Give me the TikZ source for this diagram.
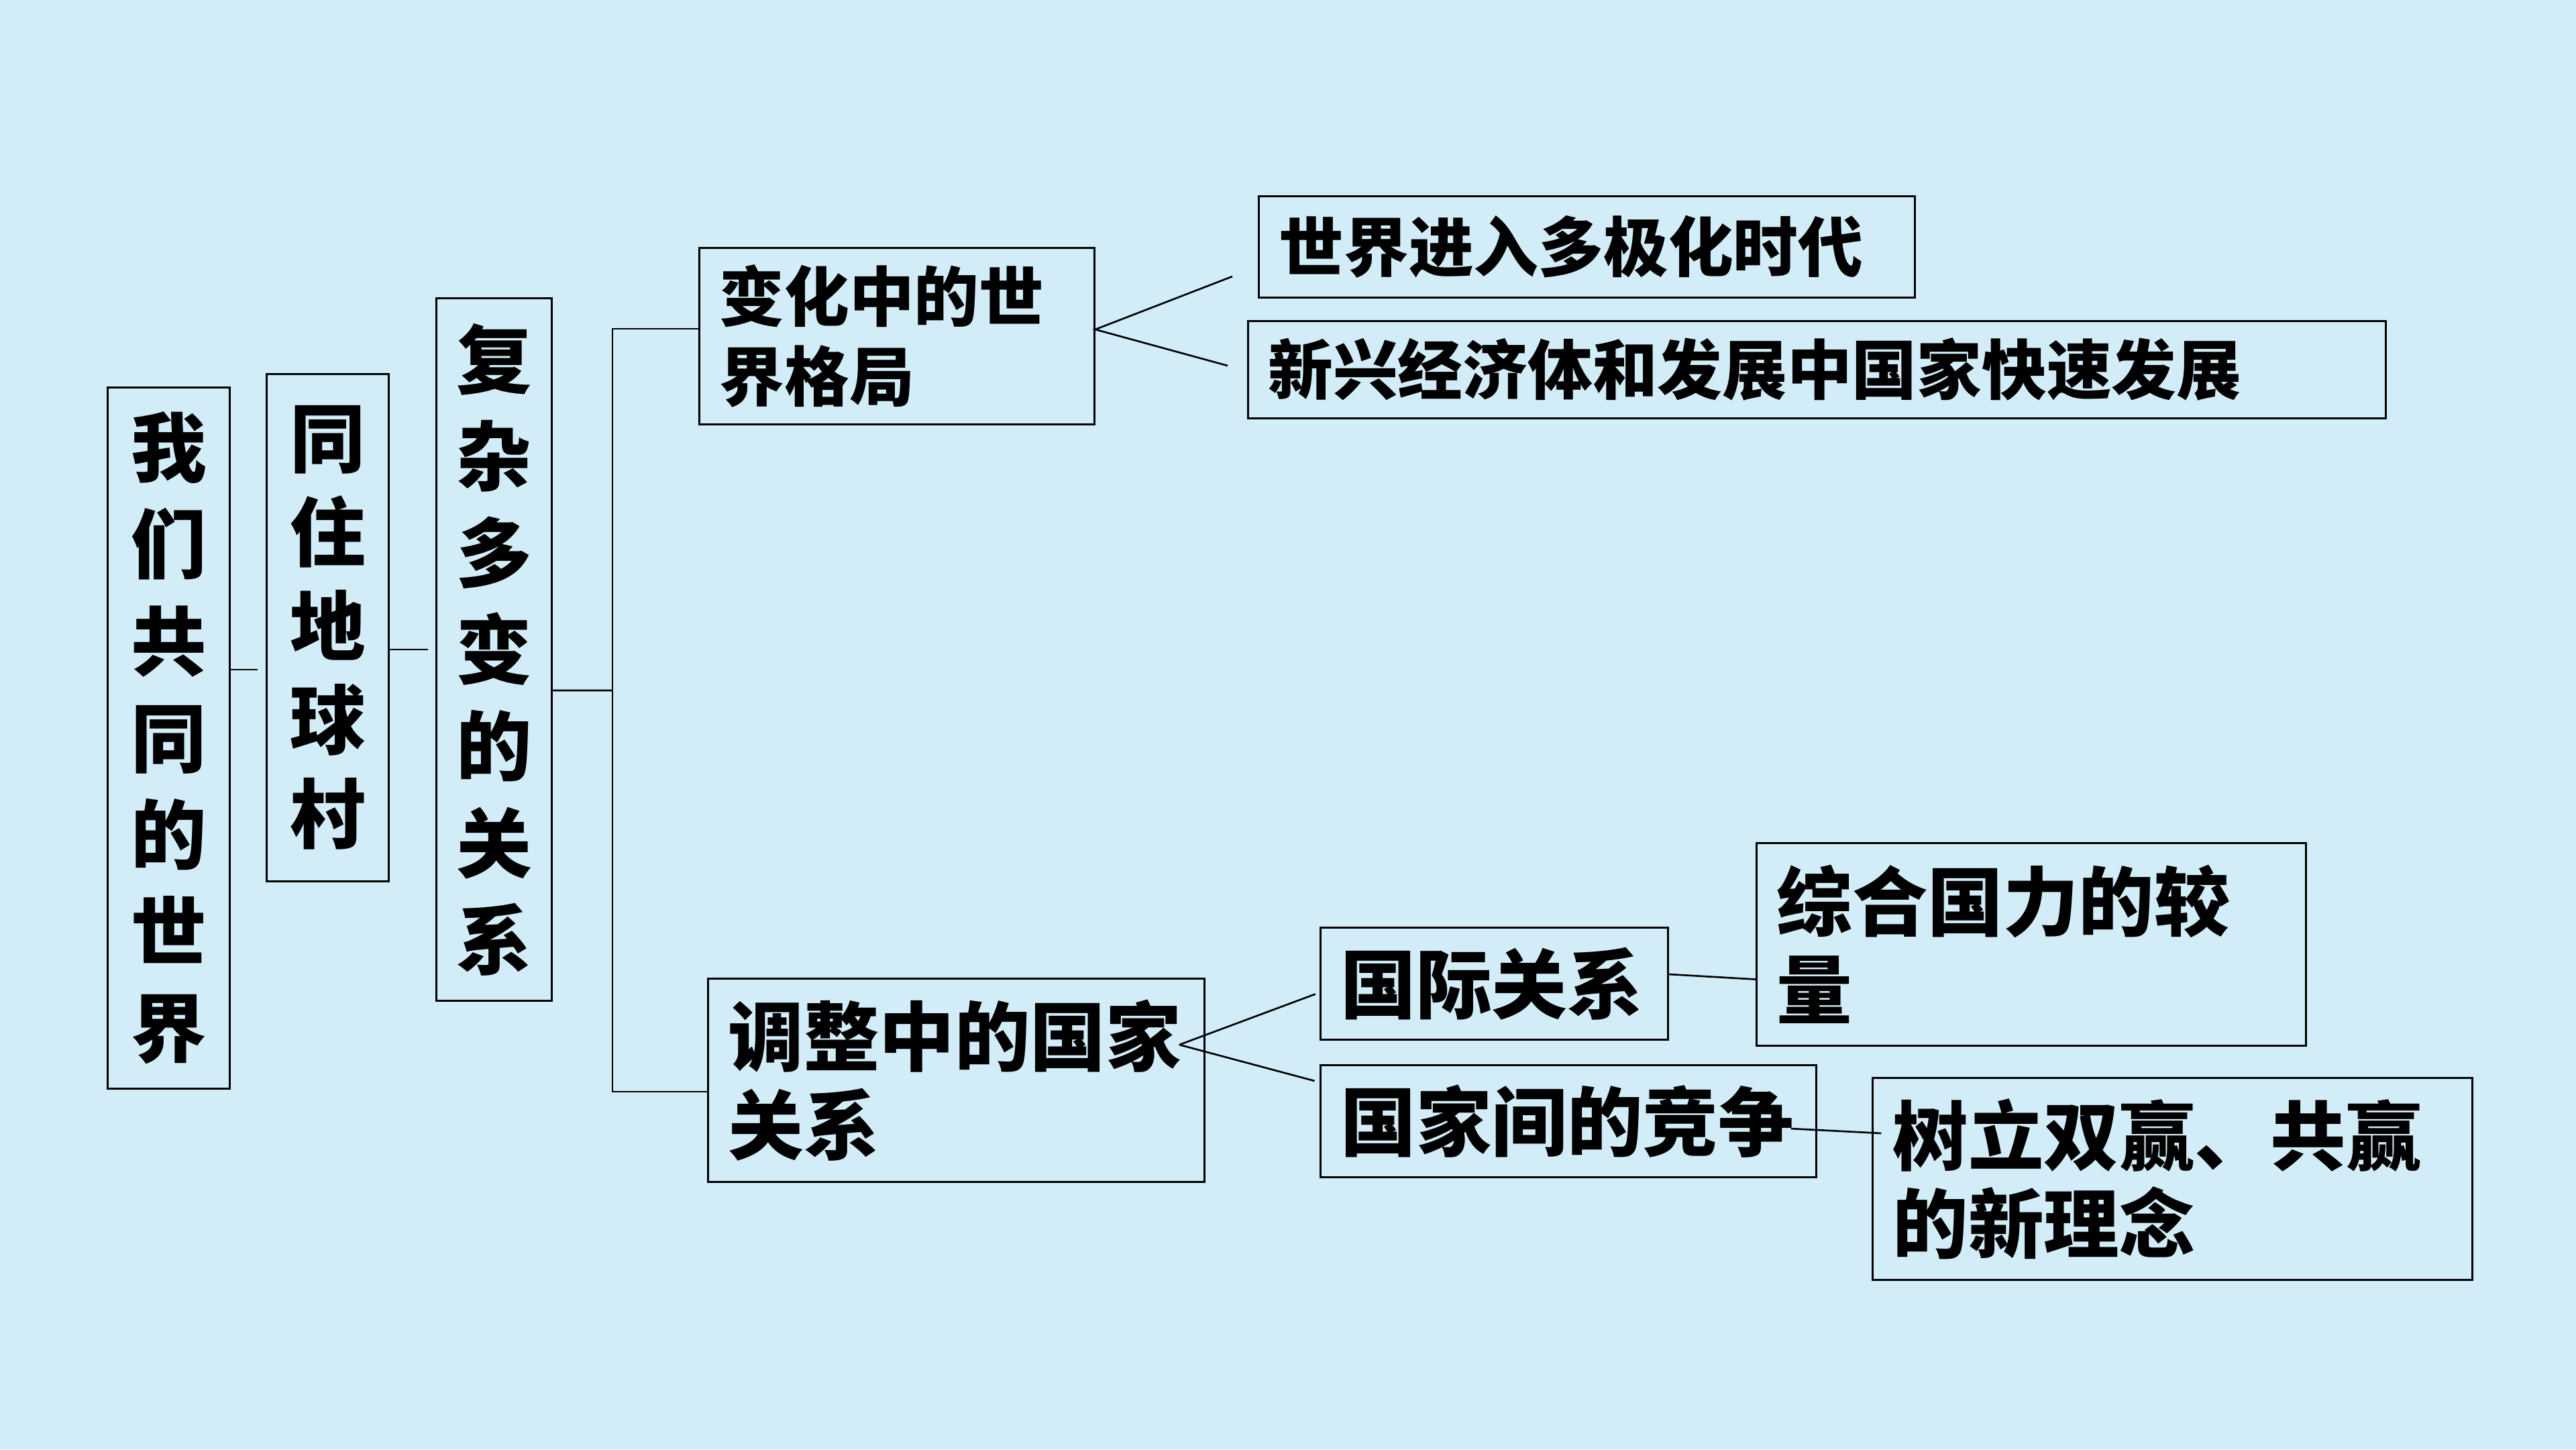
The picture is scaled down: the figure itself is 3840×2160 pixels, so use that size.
\documentclass[tikz,border=0pt]{standalone}
\usepackage{fontspec}
\usepackage{tikz}
\usetikzlibrary{calc,positioning}
\newfontfamily\cjk{Noto Sans CJK SC}
\definecolor{gbg}{HTML}{D2EDF7}
\definecolor{gink}{HTML}{000000}
\tikzset{
  vbox/.style={draw=gink,line width=0.85pt,align=center,inner sep=0pt,font=\cjk\bfseries\fontsize{32}{41}\selectfont},
  tbox/.style={draw=gink,line width=0.85pt,align=left,inner xsep=0.3cm,inner ysep=0pt,font=\cjk\bfseries\fontsize{27.5}{33.6}\selectfont},
  lbox/.style={draw=gink,line width=0.85pt,align=left,inner xsep=0.3cm,inner ysep=0pt,font=\cjk\bfseries\fontsize{32}{37.3}\selectfont},
  link/.style={draw=gink,line width=0.75pt},
}

\begin{document}
\begin{tikzpicture}[x=0.01cm,y=-0.01cm]
  \useasboundingbox (0,0) rectangle (3840,2160);
  \fill[gbg] (0,0) rectangle (3840,2160);

  % vertical titles
  \node[vbox,minimum width=1.81cm,minimum height=10.44cm] (world) at (251.5,1100) {我\\们\\共\\同\\的\\世\\界};
  \node[vbox,minimum width=1.81cm,minimum height=7.55cm,font=\cjk\bfseries\fontsize{32}{39.8}\selectfont] (village) at (488.5,935.5) {同\\住\\地\\球\\村};
  \node[vbox,minimum width=1.71cm,minimum height=10.46cm] (complex) at (736.5,968) {复\\杂\\多\\变\\的\\关\\系};

  % upper branch
  \node[tbox,text width=5.28cm,minimum height=2.62cm] (pattern) at (1337,501) {变化中的世\\界格局};
  \node[tbox,text width=9.17cm,minimum height=1.5cm] (multipolar) at (2365.5,368) {世界进入多极化时代};
  \node[tbox,text width=16.35cm,minimum height=1.44cm] (emerging) at (2708.5,551) {新兴经济体和发展中国家快速发展};

  % lower branch
  \node[lbox,text width=6.79cm,minimum height=3.02cm] (adjust) at (1425.5,1610) {调整中的国家\\关系};
  \node[lbox,text width=4.57cm,minimum height=1.66cm] (intl) at (2227.5,1466) {国际关系};
  \node[lbox,text width=6.78cm,minimum height=1.66cm] (compete) at (2338,1671) {国家间的竞争};
  \node[lbox,text width=7.58cm,minimum height=3.01cm] (power) at (3028,1407.5) {综合国力的较\\量};
  \node[lbox,text width=8.33cm,minimum height=3.0cm] (winwin) at (3238.5,1757) {树立双赢、共赢\\的新理念};

  \coordinate (jn) at (913,1029);
  \coordinate (mp) at (1837,412);
  \coordinate (em) at (1830,545);
  \coordinate (ad) at (1758,1557);

  \draw[link,shorten >=0.12cm] ([yshift=1.02cm]world.east) -- ([yshift=1.02cm]world.east -| village.west);
  \draw[link,shorten >=0.11cm] (complex.west -| village.east) -- (complex.west);
  \draw[link] ([yshift=-0.61cm]complex.east) -- (jn);
  \draw[link] ([yshift=0.11cm]pattern.west) -| (jn) |- ([yshift=-0.17cm]adjust.west);

  \draw[link] (mp) -- ([yshift=0.1cm]pattern.east) -- (em);
  \draw[link,shorten >=0.07cm] (ad) -- ([yshift=-0.13cm]intl.west);
  \draw[link,shorten >=0.08cm] (ad) -- ([yshift=0.58cm]compete.west);
  \draw[link] ([yshift=0.14cm]intl.east) -- ([yshift=-0.52cm]power.west);
  \draw[link] ([xshift=-0.39cm,yshift=-0.11cm]compete.east) -- ([xshift=0.14cm,yshift=0.68cm]winwin.west);
\end{tikzpicture}
\end{document}
